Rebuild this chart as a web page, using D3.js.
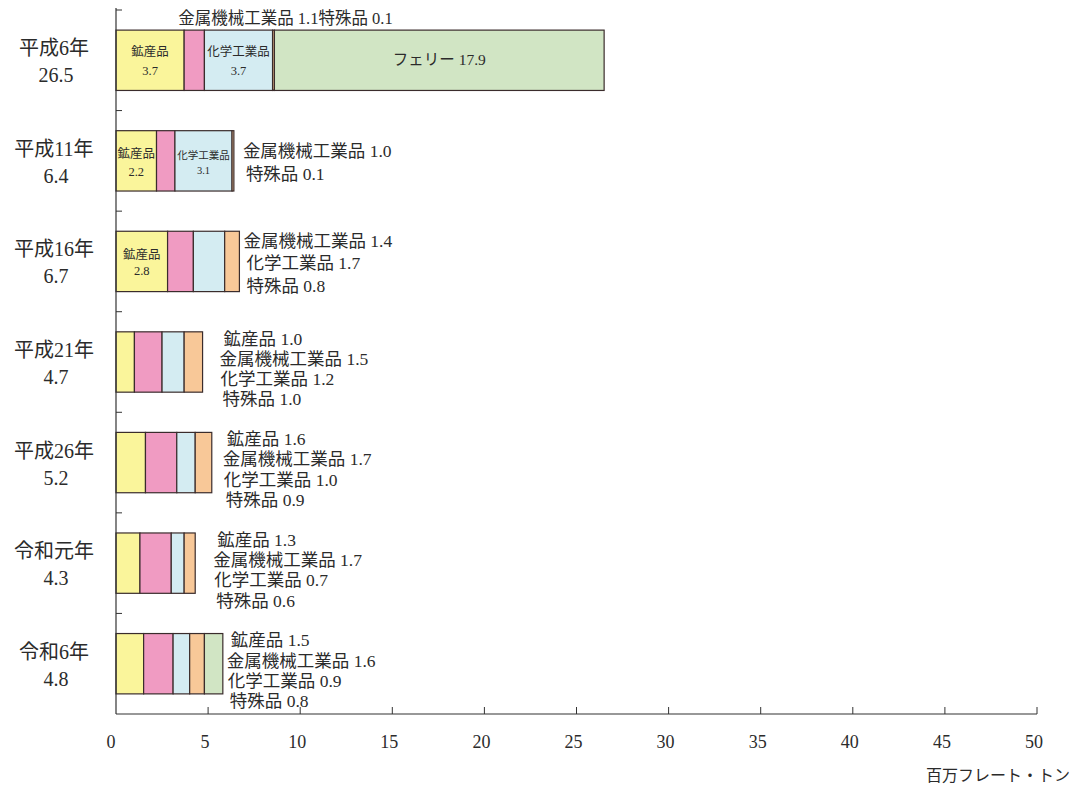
<!DOCTYPE html>
<html><head><meta charset="utf-8">
<script src="https://cdn.jsdelivr.net/npm/d3@7"></script>
<style>
html,body{margin:0;padding:0;background:#fff;}
text{font-family:"Liberation Serif","DejaVu Serif","Noto Sans CJK JP",serif;fill:#2b2b2b;}
</style></head>
<body>
<svg id="chart" width="1074" height="789"></svg>
<script>
// ---- data ----
const categories = ["平成6年","平成11年","平成16年","平成21年","平成26年","令和元年","令和6年"];
const totals    = [26.5, 6.4, 6.7, 4.7, 5.2, 4.3, 4.8];
const mineral   = [3.7, 2.2, 2.8, 1.0, 1.6, 1.3, 1.5];
const metal     = [1.1, 1.0, 1.4, 1.5, 1.7, 1.7, 1.6];
const chemical  = [3.7, 3.1, 1.7, 1.2, 1.0, 0.7, 0.9];
const special   = [0.1, 0.1, 0.8, 1.0, 0.9, 0.6, 0.8];
const ferry     = [17.9, 0, 0, 0, 0, 0, 1.0];
const seriesNames = ["鉱産品","金属機械工業品","化学工業品","特殊品","フェリー"];
const xTicks = [0,5,10,15,20,25,30,35,40,45,50];
const unitLabel = "百万フレート・トン";

// ---- layout ----
const colors = ["#faf59b","#f09bc2","#d4ecf2","#f8c898","#d1e5c4"];
const svg = d3.select("#chart");
const x = d3.scaleLinear().domain([0,50]).range([116,1037]);
const y = d3.scaleBand().domain(categories).range([10,714]).paddingInner(0.4).paddingOuter(0.2);

const table = categories.map((c,i)=>({cat:c, "鉱産品":mineral[i], "金属機械工業品":metal[i], "化学工業品":chemical[i], "特殊品":special[i], "フェリー":ferry[i]}));
const stack = d3.stack().keys(seriesNames)(table);

// bars
stack.forEach((layer,k)=>{
  svg.append("g").selectAll("rect").data(layer).join("rect")
    .attr("x", d=>x(d[0]))
    .attr("y", d=>y(d.data.cat))
    .attr("width", d=>Math.max(0, x(d[1])-x(d[0])))
    .attr("height", y.bandwidth())
    .attr("fill", colors[k])
    .attr("stroke", "#3a2c2c")
    .attr("stroke-width", 1.2)
    .style("display", d=> (d[1]-d[0])>0 ? null : "none");
});

// axes
const axisG = svg.append("g");
axisG.append("line").attr("x1",x(0)).attr("x2",x(0)).attr("y1",8).attr("y2",714).attr("stroke","#333").attr("stroke-width",1.2);
axisG.append("line").attr("x1",x(0)).attr("x2",x(50)).attr("y1",714).attr("y2",714).attr("stroke","#333").attr("stroke-width",1.2);
const step = y.step();
const y0 = y.range()[0];
d3.range(categories.length).forEach(i=>{
  const yy = y0 + i*step;
  axisG.append("line").attr("x1",x(0)).attr("x2",x(0)+6).attr("y1",yy).attr("y2",yy).attr("stroke","#333");
});
xTicks.forEach(t=>{
  if(t>0) axisG.append("line").attr("x1",x(t)).attr("x2",x(t)).attr("y1",714).attr("y2",707).attr("stroke","#333");
  axisG.append("text").attr("x",x(t)-(t===0?5:3)).attr("y",748).attr("text-anchor","middle")
    .attr("font-size",18).text(t);
});
svg.append("text").attr("x",1070).attr("y",781).attr("text-anchor","end").attr("font-size",16).text(unitLabel);

// category labels
categories.forEach((c,i)=>{
  const cy = y(c)+y.bandwidth()/2;
  svg.append("text").attr("x",54).attr("y",cy-5).attr("text-anchor","middle").attr("font-size",20).text(c);
  svg.append("text").attr("x",56).attr("y",cy+22).attr("text-anchor","middle").attr("font-size",20).text(totals[i].toFixed(1));
});

const vals = [mineral, metal, chemical, special, ferry];
function segCenter(i,k){ const d = stack[k][i]; return (x(d[0])+x(d[1]))/2; }

// inside labels
function inside(i,k,size,dy1,dy2){
  const cx = segCenter(i,k), cy = y(categories[i])+y.bandwidth()/2;
  svg.append("text").attr("x",cx).attr("y",cy+dy1).attr("text-anchor","middle").attr("font-size",size).text(seriesNames[k]);
  svg.append("text").attr("x",cx).attr("y",cy+dy2).attr("text-anchor","middle").attr("font-size",size).text(vals[k][i].toFixed(1));
}
inside(0,0,12.5,-4,15);
inside(0,2,12.5,-4,15);
inside(1,0,12.5,-3,15);
inside(1,2,10.5,-2,13);
inside(2,0,12.5,-2,14);
// ferry
{
  const cy = y(categories[0])+y.bandwidth()/2;
  svg.append("text").attr("x",segCenter(0,4)).attr("y",cy+5).attr("text-anchor","middle").attr("font-size",15.5)
    .text(seriesNames[4]+" "+ferry[0].toFixed(1));
}
// top label for first bar
svg.append("text").attr("x",x(mineral[0])-6).attr("y",24).attr("font-size",16.5)
  .text(seriesNames[1]+" "+metal[0].toFixed(1)+seriesNames[3]+" "+special[0].toFixed(1));

// right-side labels
const rightKeys = [null,[1,3],[1,2,3],[0,1,2,3],[0,1,2,3],[0,1,2,3],[0,1,2,3]];
const rowOffset = [0,9,4,17,11,18,4];
const lineDx = [4,0,1,3];
const lineSpacing = {2:23,3:22.5,4:20.3};
const lineCenter = {2:8,3:8,4:13};
rightKeys.forEach((keys,i)=>{
  if(!keys) return;
  const endX = x(d3.sum(vals, v=>v[i]));
  const cy = y(categories[i])+y.bandwidth()/2;
  const n = keys.length;
  keys.forEach((k,j)=>{
    svg.append("text")
      .attr("x", endX + rowOffset[i] + (n===4 ? lineDx[k] : (k===1?0:3)))
      .attr("y", cy + lineCenter[n] + (j-(n-1)/2)*lineSpacing[n])
      .attr("font-size",17.5)
      .text(seriesNames[k]+" "+vals[k][i].toFixed(1));
  });
});
</script>
</body></html>
